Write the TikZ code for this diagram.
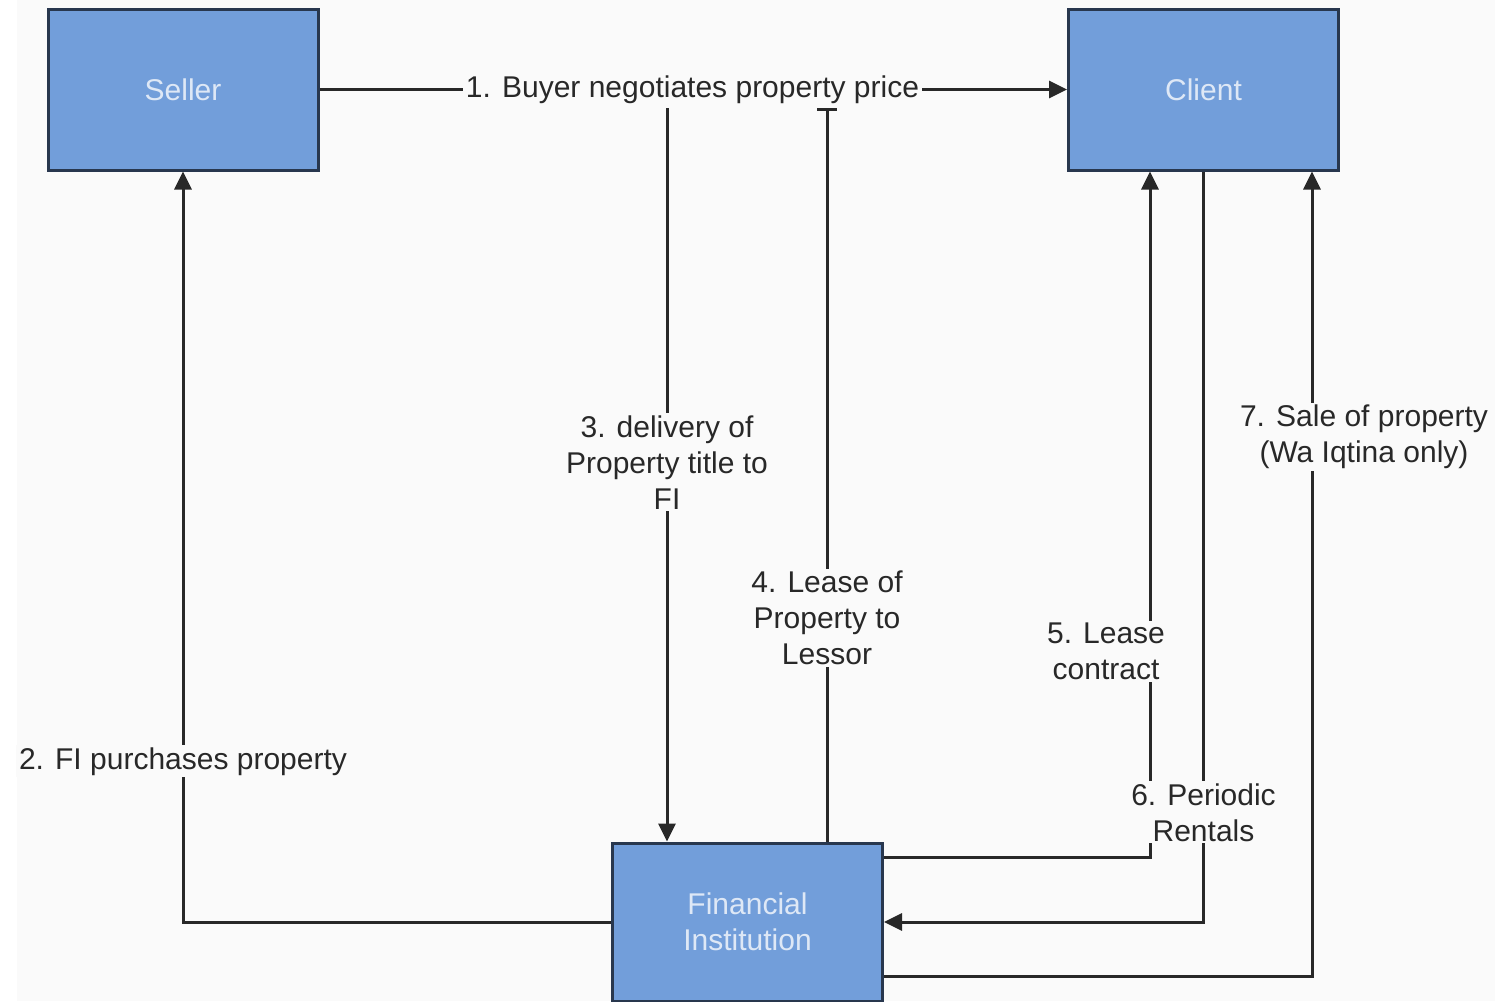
\documentclass[tikz,border=0pt]{standalone}
\usepackage{fontspec}
\setmainfont{Liberation Sans}
\usetikzlibrary{arrows.meta}
\definecolor{bg}{RGB}{250,250,250}
\definecolor{boxfill}{RGB}{114,158,218}
\definecolor{boxline}{RGB}{40,55,78}
\definecolor{boxtext}{RGB}{222,232,246}
\definecolor{ink}{RGB}{40,40,40}
\tikzset{
  party/.style={draw=boxline, line width=3pt, fill=boxfill, minimum width=270pt,
    minimum height=161pt, inner sep=0pt, text=boxtext, align=center,
    font=\fontsize{30}{36}\selectfont},
  conn/.style={draw=ink, line width=3pt},
  arr/.style={conn, -{Triangle[length=18pt,width=17pt]}},
  lbl/.style={fill=bg, text=ink, inner xsep=3pt, inner ysep=2pt, align=center,
    font=\fontsize{30}{36}\selectfont}
}
\begin{document}
\begin{tikzpicture}[x=1pt,y=-1pt]
\useasboundingbox (0,0) rectangle (1495,1001);
\fill[white] (0,0) rectangle (1495,1001);
\fill[bg] (17,0) rectangle (1495,1001);
\begin{scope}
\clip (0,0) rectangle (1495,1001);
\node[party] (seller) at (183,89.5) {Seller};
\node[party] (client) at (1203.5,89.5) {Client};
\node[party, minimum height=158pt] (fi) at (747.5,922) {Financial\\Institution};
\end{scope}
\coordinate (t3) at (667,108);
\coordinate (t4) at (827,108);
% 1
\draw[arr] (seller.east) -- node[lbl, pos=0.499] {1. Buyer negotiates property price} (client.west);
% 2
\draw[arr] (fi.west) -| node[lbl, pos=0.607] {2. FI purchases property} (seller.south);
% 3
\draw[arr] (t3) -- node[lbl, pos=0.483] {3. delivery of\\Property title to\\FI} (t3 |- fi.north);
% 4
\draw[conn, -{Bar[width=20pt]}] (t4 |- fi.north) -- node[lbl, pos=0.305] {4. Lease of\\Property to\\Lessor} (t4);
% 5
\draw[arr] ([yshift=-15.5pt]fi.north east) -| node[lbl, pos=0.65, xshift=-44pt] {5. Lease\\contract} ([xshift=-53.5pt]client.south);
% 6
\draw[arr] (client.south) |- node[lbl, pos=0.427] {6. Periodic\\Rentals} (fi.east);
% 7
\draw[arr] ([yshift=-134.5pt]fi.north east) -| node[lbl, pos=0.835, xshift=52pt] {7. Sale of property\\(Wa Iqtina only)} ([xshift=108.5pt]client.south);
\end{tikzpicture}
\end{document}
